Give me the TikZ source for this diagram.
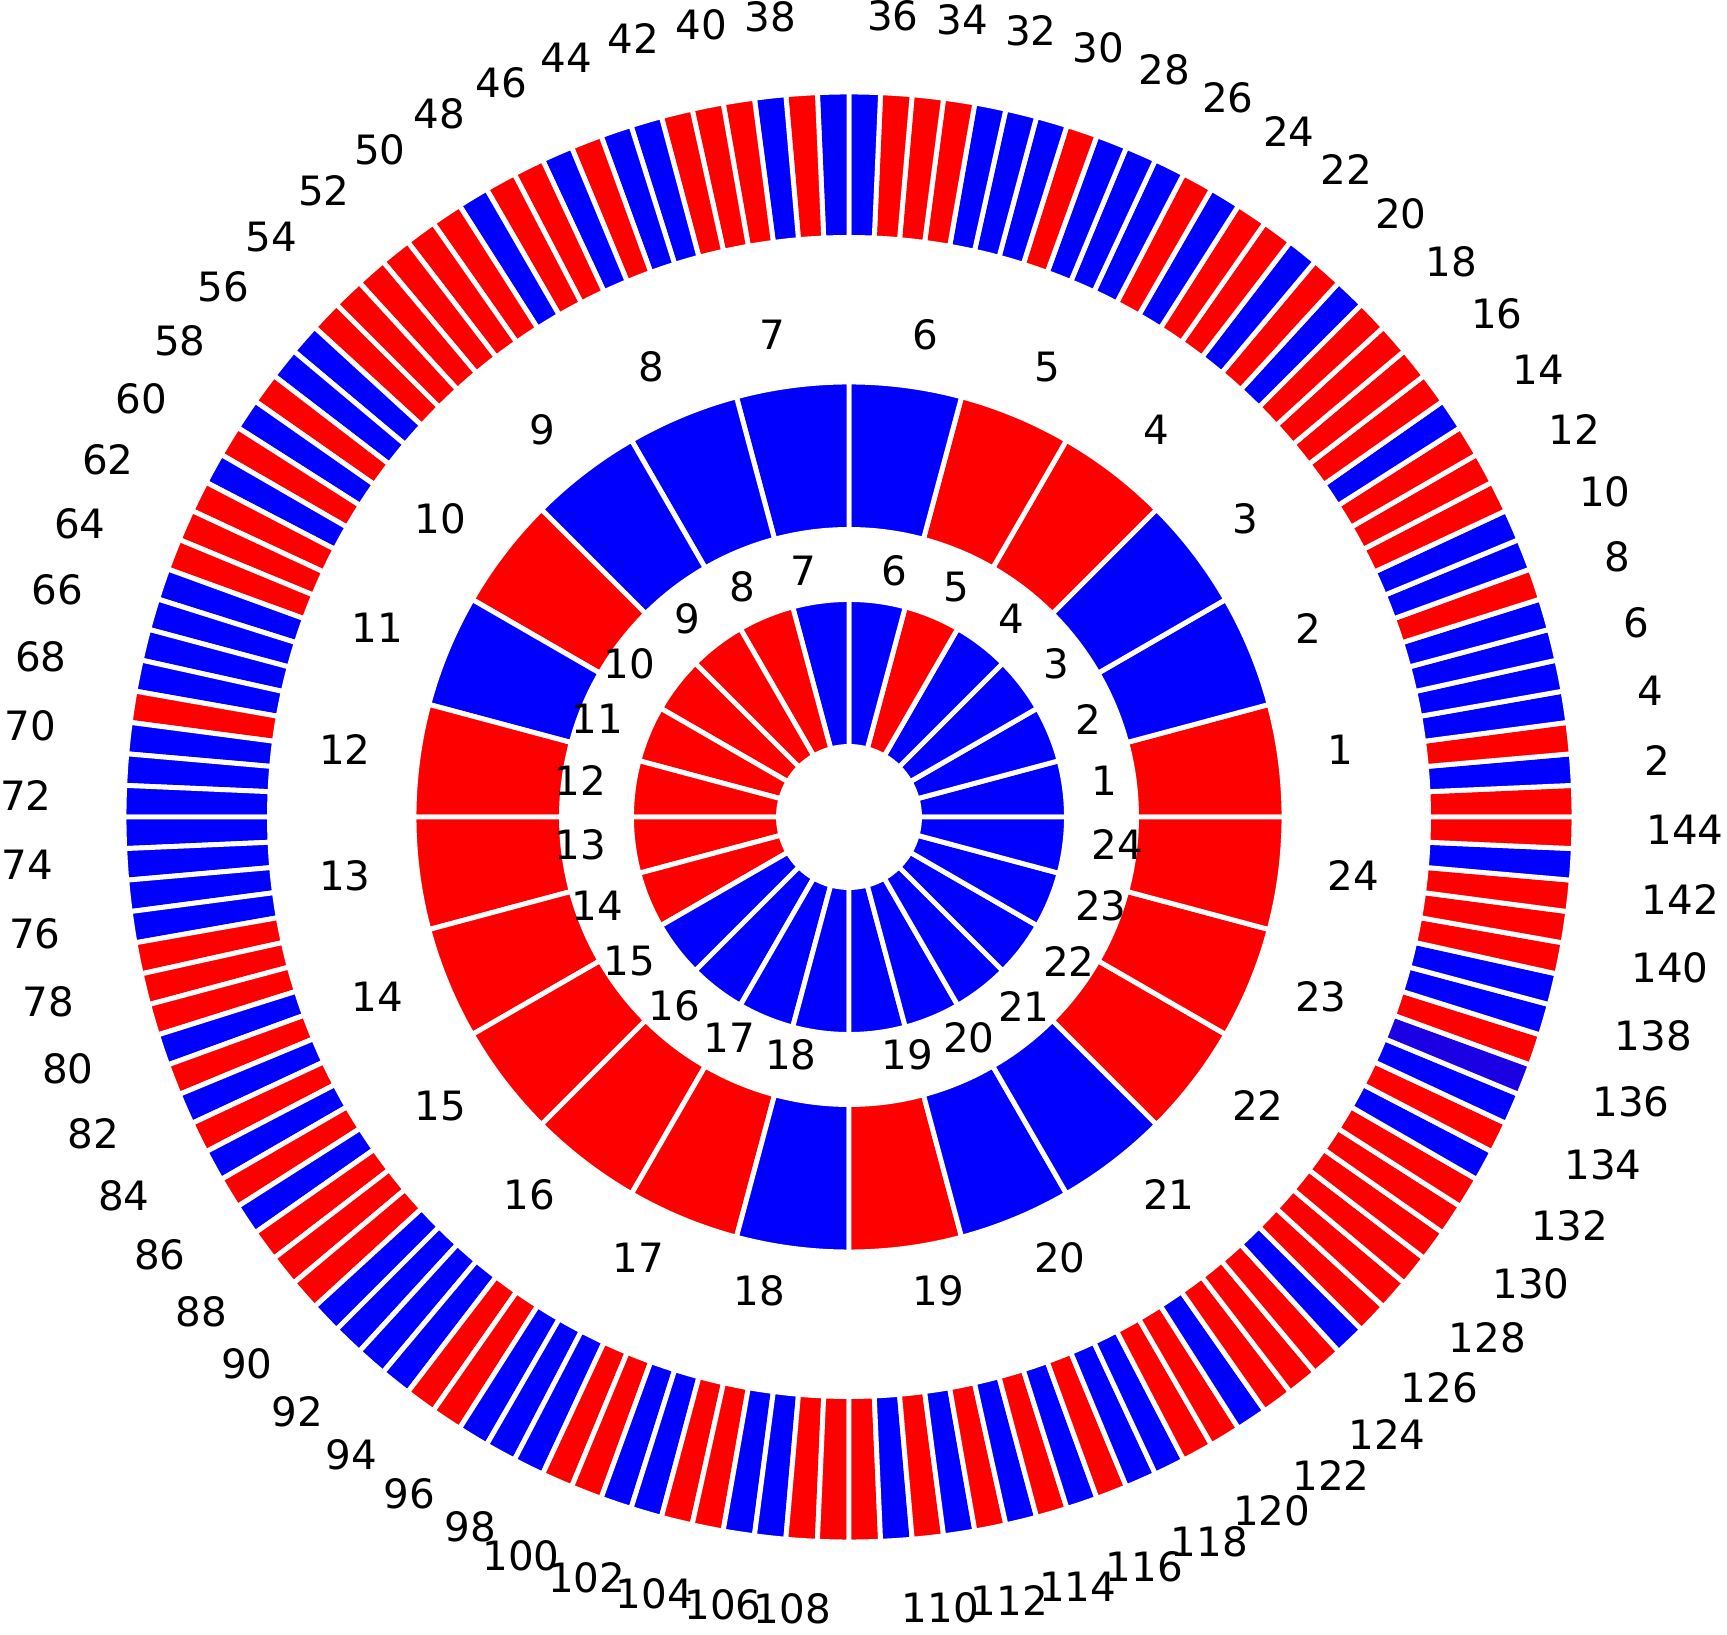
\documentclass[tikz,border=0pt]{standalone}
\usepackage{fontspec}
\setmainfont{DejaVu Sans}
\definecolor{segR}{RGB}{255,0,0}
\definecolor{segB}{RGB}{0,0,255}
\definecolor{segP}{RGB}{28,0,228}
\tikzset{
  wedge/.style={draw=white, line width=1.4pt, line join=miter},
  ringlabel/.style={inner sep=0pt, yshift=0.45mm, font=\fontsize{11.5}{13}\selectfont},
}
\begin{document}
\begin{tikzpicture}[line cap=round]
	\useasboundingbox (-8.49,-8.18) rectangle (8.78,8.17);
	% inner ring, 24 wedges
	\foreach \c [count=\i] in {B,B,B,B,R,B,B,R,R,R,R,R,R,R,B,B,B,B,B,B,B,B,B,B}{
		\pgfmathsetmacro\a{(\i-1)*15}
		\pgfmathsetmacro\b{\i*15}
		\filldraw[wedge, fill=seg\c] (\a:0.705) arc[start angle=\a, end angle=\b, radius=0.705] -- (\b:2.175) arc[start angle=\b, end angle=\a, radius=2.175] -- cycle;
	}
	% middle ring, 24 wedges
	\foreach \c [count=\i] in {R,B,B,R,R,B,B,B,B,R,B,R,R,R,R,R,R,B,R,B,B,R,R,R}{
		\pgfmathsetmacro\a{(\i-1)*15}
		\pgfmathsetmacro\b{\i*15}
		\filldraw[wedge, fill=seg\c] (\a:2.875) arc[start angle=\a, end angle=\b, radius=2.875] -- (\b:4.35) arc[start angle=\b, end angle=\a, radius=4.35] -- cycle;
	}
	% outer ring, 144 wedges
	\foreach \c [count=\i] in {R,B,R,B,B,B,B,R,B,B,R,R,R,B,R,R,R,R,B,R,B,R,R,B,R,B,B,B,R,B,B,B,R,R,R,B,
		B,R,B,R,R,R,B,B,R,B,R,R,B,R,R,R,R,R,R,B,B,R,B,R,B,R,R,R,B,B,B,B,R,B,B,B,
		B,B,B,B,R,R,R,B,R,B,R,B,R,B,R,R,R,B,B,B,B,R,R,B,B,B,R,R,B,B,R,R,B,B,R,R,
		R,B,R,B,R,B,R,B,R,B,B,R,R,B,R,R,R,B,R,R,R,R,R,R,B,R,B,P,R,B,B,R,R,R,B,R}{
		\pgfmathsetmacro\a{(\i-1)*2.5}
		\pgfmathsetmacro\b{\i*2.5}
		\filldraw[wedge, fill=seg\c] (\a:5.795) arc[start angle=\a, end angle=\b, radius=5.795] -- (\b:7.25) arc[start angle=\b, end angle=\a, radius=7.25] -- cycle;
	}
	% labels
	\foreach \i in {1,...,24}{
		\pgfmathsetmacro\t{(\i-0.5)*15}
		\pgfmathtruncatemacro\s{cos(\t)>0}
		\ifnum\s=1 \def\anc{west}\else\def\anc{east}\fi
		\node[ringlabel, anchor=\anc] (inlab\i) at (\t:2.44) {\i};
		\node[ringlabel, anchor=\anc] (midlab\i) at (\t:4.82) {\i};
	}
	\foreach \i in {2,4,...,144}{
		\pgfmathsetmacro\t{(\i-0.5)*2.5}
		\pgfmathtruncatemacro\s{cos(\t)>0}
		\ifnum\s=1 \def\anc{west}\else\def\anc{east}\fi
		\node[ringlabel, anchor=\anc] (outlab\i) at (\t:7.97) {\i};
	}
\end{tikzpicture}
\end{document}
